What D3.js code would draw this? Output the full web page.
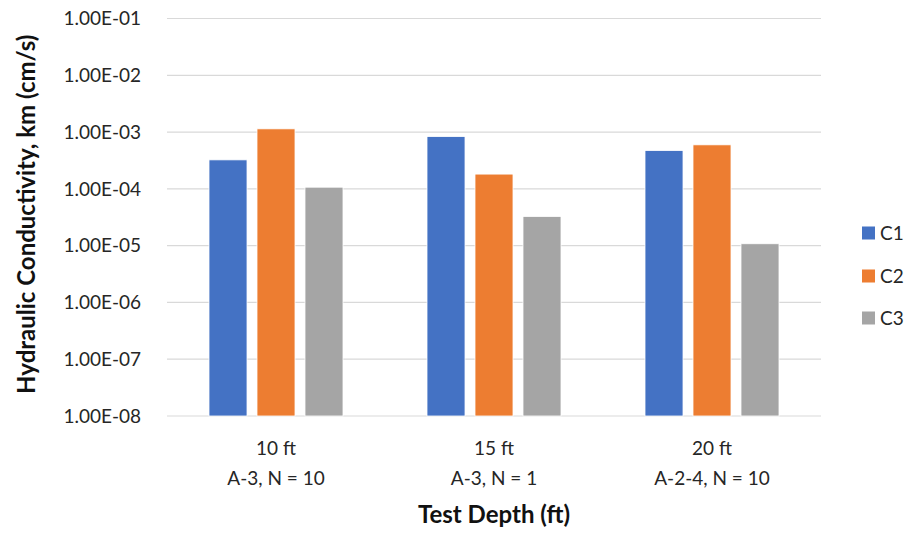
<!DOCTYPE html>
<html><head><meta charset="utf-8">
<script src="https://cdn.jsdelivr.net/npm/d3@7"></script>
<style>body{margin:0;background:#fff}svg{display:block}text{font-family:Lato,"Open Sans",sans-serif}</style>
</head><body><svg id="c" width="907" height="533"></svg>
<script>
const categories = ["10 ft|A-3, N = 10", "15 ft|A-3, N = 1", "20 ft|A-2-4, N = 10"];
const seriesNames = ["C1", "C2", "C3"];
const c1 = [3.24e-4, 8.34e-4, 4.73e-4];
const c2 = [1.14e-3, 1.82e-4, 5.96e-4];
const c3 = [1.07e-4, 3.27e-5, 1.08e-5];
const colors = ["#4472C4", "#ED7D31", "#A5A5A5"];
const yTicks = [1e-8, 1e-7, 1e-6, 1e-5, 1e-4, 1e-3, 1e-2, 1e-1];
const yTitle = "Hydraulic Conductivity, km (cm/s)";
const xTitle = "Test Depth (ft)";

const series = [c1, c2, c3];
const svg = d3.select("#c");
const L = 167, R = 821, T = 18.5, B = 416;
const y = d3.scaleLog().domain([1e-8, 1e-1]).range([B, T]);
const x0 = d3.scaleBand().domain(categories).range([L, R]);
const bw = x0.bandwidth();
const x1 = d3.scaleBand().domain(seriesNames).range([42, bw - 42]).paddingInner(0.208);

// gridlines
svg.append("g").selectAll("line").data(yTicks).join("line")
  .attr("x1", L).attr("x2", R).attr("y1", d => y(d)).attr("y2", d => y(d))
  .attr("stroke", "#d9d9d9").attr("stroke-width", 1.2);

// y labels
const fmt = v => { const e = Math.round(Math.log10(v)); return "1.00E" + (e < 0 ? "-" : "+") + String(Math.abs(e)).padStart(2, "0"); };
svg.append("g").selectAll("text").data(yTicks).join("text")
  .attr("x", 141).attr("y", d => y(d)).attr("dy", "0.36em").attr("text-anchor", "end")
  .attr("font-size", 19).attr("fill", "#262626").text(fmt);

// bars
categories.forEach((cat, i) => {
  seriesNames.forEach((s, j) => {
    const v = series[j][i];
    svg.append("rect")
      .attr("x", x0(cat) + x1(s)).attr("width", x1.bandwidth())
      .attr("y", y(v)).attr("height", B - y(v))
      .attr("fill", colors[j]).attr("stroke", "#fff").attr("stroke-width", 0.8);
  });
});

// x category labels
categories.forEach(cat => {
  const [a, b] = cat.split("|");
  const cx = x0(cat) + bw / 2;
  svg.append("text").attr("x", cx).attr("y", 455).attr("text-anchor", "middle").attr("font-size", 19).attr("fill", "#262626").text(a);
  svg.append("text").attr("x", cx).attr("y", 485).attr("text-anchor", "middle").attr("font-size", 19).attr("fill", "#262626").text(b);
});

// axis titles
svg.append("text").attr("x", (L + R) / 2).attr("y", 523).attr("text-anchor", "middle")
  .attr("font-size", 24).attr("font-weight", "bold").attr("fill", "#111").text(xTitle);
svg.append("text").attr("transform", `translate(26,${(T + B) / 2 - 3}) rotate(-90)`).attr("text-anchor", "middle")
  .attr("dy", "0.36em").attr("font-size", 24).attr("font-weight", "bold").attr("fill", "#111").text(yTitle);

// legend
const legY = [233, 276, 318];
seriesNames.forEach((s, j) => {
  svg.append("rect").attr("x", 862).attr("y", legY[j] - 6.5).attr("width", 13).attr("height", 13).attr("fill", colors[j]);
  svg.append("text").attr("x", 880).attr("y", legY[j]).attr("dy", "0.36em").attr("font-size", 19).attr("fill", "#262626").text(s);
});
</script></body></html>
